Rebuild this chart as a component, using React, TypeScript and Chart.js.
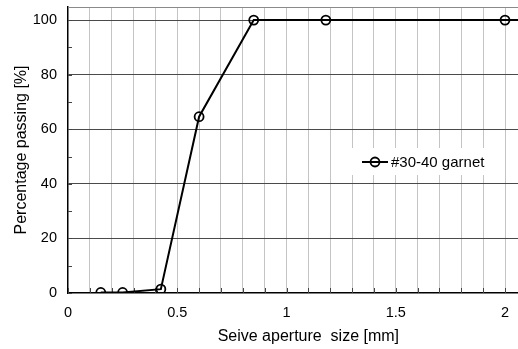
import React, { useEffect, useRef } from "react";
import { Chart, registerables } from "chart.js";

Chart.register(...registerables);

const seriesLabel = "#30-40 garnet";
const apertureMm = [0.15, 0.25, 0.425, 0.6, 0.85, 1.18, 2.0, 2.36];
const percentPassing = [0.2, 0.2, 1.4, 64.6, 100, 100, 100, 100];
const xTickValues = [0, 0.1, 0.2, 0.3, 0.4, 0.5, 0.6, 0.7, 0.8, 0.9, 1.0, 1.1, 1.2, 1.3, 1.4, 1.5, 1.6, 1.7, 1.8, 1.9, 2.0, 2.1, 2.2];
const xLabelValues = [0, 0.5, 1, 1.5, 2];
const yTickValues = [0, 10, 20, 30, 40, 50, 60, 70, 80, 90, 100];
const yLabelValues = [0, 20, 40, 60, 80, 100];

const FONT = "'Liberation Sans', Arial, sans-serif";

const near = (a: number, list: number[]) => list.some((v) => Math.abs(v - a) < 1e-6);

const decorPlugin = {
  id: "decor",
  beforeDatasetsDraw(chart: any) {
    const { ctx, chartArea } = chart;
    const xs = chart.scales.x;
    const ys = chart.scales.y;
    ctx.save();
    ctx.strokeStyle = "#8a8a8a";
    ctx.lineWidth = 1;
    ctx.beginPath();
    ctx.moveTo(chartArea.left, chartArea.top + 0.5);
    ctx.lineTo(chartArea.right, chartArea.top + 0.5);
    ctx.stroke();
    ctx.strokeStyle = "#444";
    ctx.lineWidth = 1;
    yTickValues.forEach((v) => {
      const y = Math.round(ys.getPixelForValue(v)) + 0.5;
      ctx.beginPath();
      ctx.moveTo(chartArea.left, y);
      ctx.lineTo(chartArea.left + 4, y);
      ctx.stroke();
    });
    xTickValues.forEach((v) => {
      const x = Math.round(xs.getPixelForValue(v)) + 0.5;
      ctx.beginPath();
      ctx.moveTo(x, chartArea.bottom);
      ctx.lineTo(x, chartArea.bottom - 5);
      ctx.stroke();
    });
    ctx.restore();
  },
  afterDatasetsDraw(chart: any) {
    const { ctx } = chart;
    const ds = chart.data.datasets[0];
    ctx.save();
    ctx.fillStyle = "#ffffff";
    ctx.fillRect(341, 148, 150, 27);
    const cy = 162;
    ctx.strokeStyle = "#000";
    ctx.lineWidth = 2;
    ctx.beginPath();
    ctx.moveTo(362, cy);
    ctx.lineTo(388, cy);
    ctx.stroke();
    ctx.lineWidth = 1.8;
    ctx.beginPath();
    ctx.arc(375, cy, 4.5, 0, Math.PI * 2);
    ctx.stroke();
    ctx.fillStyle = "#000";
    ctx.font = `15px ${FONT}`;
    ctx.textBaseline = "middle";
    ctx.textAlign = "left";
    ctx.fillText(ds.label, 391, cy + 1);
    ctx.restore();
  },
};

export default function App() {
  const canvasRef = useRef<HTMLCanvasElement | null>(null);

  useEffect(() => {
    document.body.style.margin = "0";
    document.body.style.overflow = "hidden";
    const canvas = canvasRef.current;
    if (!canvas) return;
    const chart = new Chart(canvas, {
      type: "line",
      data: {
        datasets: [
          {
            label: seriesLabel,
            data: apertureMm.map((x, i) => ({ x, y: percentPassing[i] })),
            borderColor: "#000",
            borderWidth: 2,
            pointRadius: 4.5,
            pointBorderWidth: 1.8,
            pointBorderColor: "#000",
            pointBackgroundColor: "rgba(0,0,0,0)",
            fill: false,
            tension: 0,
          },
        ],
      },
      options: {
        responsive: false,
        animation: false,
        layout: { padding: { top: 7, right: 0, left: 0, bottom: 0 } },
        plugins: {
          legend: { display: false },
          tooltip: { enabled: false },
        },
        scales: {
          x: {
            type: "linear",
            min: 0,
            max: 2.2,
            afterBuildTicks: (scale: any) => {
              scale.ticks = xTickValues.map((value) => ({ value }));
            },
            afterFit: (scale: any) => {
              scale.height = 56;
              scale.paddingLeft = 0;
              scale.paddingRight = 0;
              scale.paddingTop = 0;
              scale.paddingBottom = 0;
            },
            ticks: {
              autoSkip: false,
              maxRotation: 0,
              padding: 11,
              color: "#000",
              font: { family: FONT, size: 14.5 },
              callback: (v: any) => (near(Number(v), xLabelValues) ? String(Math.round(Number(v) * 10) / 10) : ""),
            },
            grid: {
              drawTicks: false,
              lineWidth: 1,
              color: (c: any) => (c.tick && Math.abs(c.tick.value) < 1e-6 ? "rgba(0,0,0,0)" : "#c4c4c4"),
            },
            border: { display: true, color: "#000", width: 1.5 },
            title: {
              display: true,
              text: "Seive aperture  size [mm]",
              color: "#000",
              font: { family: FONT, size: 16 },
              padding: { top: 0, bottom: 3 },
            },
          },
          y: {
            type: "linear",
            min: 0,
            max: 104.8,
            afterBuildTicks: (scale: any) => {
              scale.ticks = yTickValues.map((value) => ({ value }));
            },
            afterFit: (scale: any) => {
              scale.width = 68;
              scale.paddingLeft = 0;
              scale.paddingRight = 0;
              scale.paddingTop = 0;
              scale.paddingBottom = 0;
            },
            ticks: {
              autoSkip: false,
              padding: 11,
              color: "#000",
              font: { family: FONT, size: 14.5 },
              callback: (v: any) => (near(Number(v), yLabelValues) ? String(v) : ""),
            },
            grid: {
              drawTicks: false,
              lineWidth: 1,
              color: (c: any) =>
                c.tick && near(c.tick.value, yLabelValues) && c.tick.value !== 0 ? "#4a4a4a" : "rgba(0,0,0,0)",
            },
            border: { display: true, color: "#000", width: 1.5 },
            title: {
              display: true,
              text: "Percentage passing [%]",
              color: "#000",
              font: { family: FONT, size: 16 },
              padding: { top: 12, bottom: 0 },
            },
          },
        },
      },
      plugins: [decorPlugin],
    });
    return () => chart.destroy();
  }, []);

  return (
    <div style={{ width: 518, height: 349, overflow: "hidden", background: "#fff" }}>
      <canvas ref={canvasRef} width={555} height={349} style={{ display: "block", width: 555, height: 349 }} />
    </div>
  );
}
